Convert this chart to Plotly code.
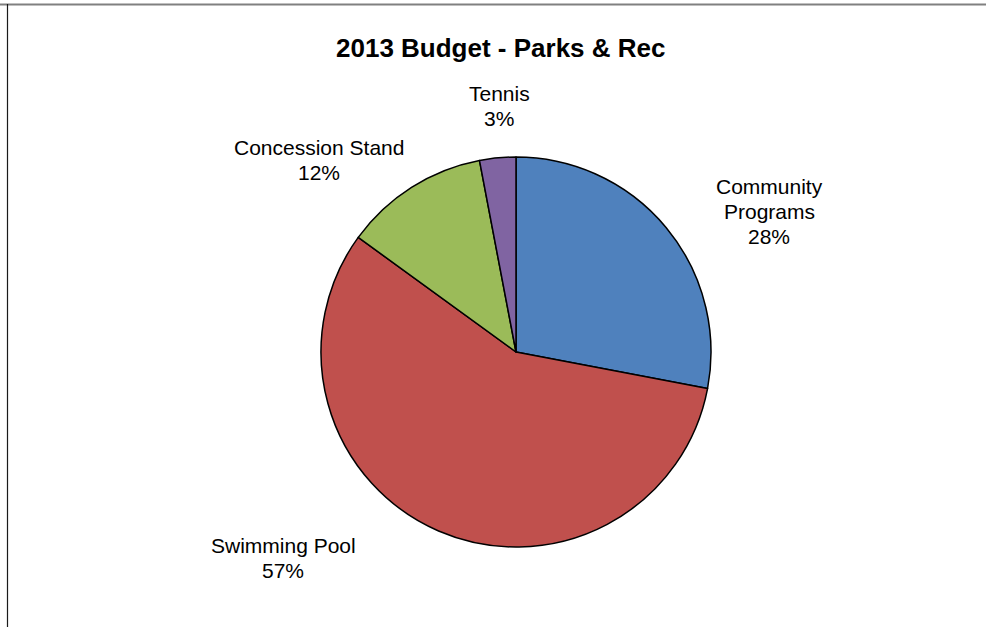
import plotly.graph_objects as go

# Budget shares by program
categories = ["Community Programs", "Swimming Pool", "Concession Stand", "Tennis"]
values = [28, 57, 12, 3]
colors = ["#4F81BD", "#C0504D", "#9BBB59", "#8064A2"]

# Label text lines (name may wrap) and where each label block sits (pixels)
label_lines = {
    "Community Programs": ["Community", "Programs"],
    "Swimming Pool": ["Swimming Pool"],
    "Concession Stand": ["Concession Stand"],
    "Tennis": ["Tennis"],
}
label_pos = {
    "Community Programs": (769, 186),
    "Swimming Pool": (283, 545),
    "Concession Stand": (319, 147),
    "Tennis": (499, 93),
}

W, H = 986, 627
FONT = "Liberation Sans, Arial, sans-serif"
LINE = 25  # pixel spacing between label lines

cx, cy, r = 516, 352, 195

fig = go.Figure(
    go.Pie(
        labels=categories,
        values=values,
        sort=False,
        direction="clockwise",
        rotation=0,
        marker=dict(colors=colors, line=dict(color="#000000", width=1.5)),
        textinfo="none",
        hoverinfo="label+percent",
        showlegend=False,
        domain=dict(
            x=[(cx - r) / W, (cx + r) / W],
            y=[1 - (cy + r) / H, 1 - (cy - r) / H],
        ),
    )
)

total = sum(values)
annotations = []
for name, v in zip(categories, values):
    lines = label_lines[name] + [f"{round(v / total * 100)}%"]
    x0, y0 = label_pos[name]
    for i, txt in enumerate(lines):
        annotations.append(
            dict(
                x=x0 / W, y=1 - (y0 + i * LINE) / H,
                xref="paper", yref="paper",
                text=txt, showarrow=False,
                xanchor="center", yanchor="middle",
                font=dict(family=FONT, size=21, color="#000000"),
            )
        )

annotations.append(
    dict(
        x=500 / W, y=1 - 48 / H, xref="paper", yref="paper",
        text="<b>2013 Budget - Parks & Rec</b>", showarrow=False,
        xanchor="center", yanchor="middle",
        font=dict(family=FONT, size=26, color="#000000"),
    )
)

shapes = [
    # chart area frame: top and left edges
    dict(type="line", xref="paper", yref="paper",
         x0=0, x1=1, y0=1 - 4.5 / H, y1=1 - 4.5 / H,
         line=dict(color="#808080", width=2)),
    dict(type="line", xref="paper", yref="paper",
         x0=7.5 / W, x1=7.5 / W, y0=0, y1=1 - 4 / H,
         line=dict(color="#1a1a1a", width=1.2)),
]

fig.update_layout(
    width=W, height=H,
    margin=dict(l=0, r=0, t=0, b=0),
    paper_bgcolor="#FFFFFF",
    plot_bgcolor="#FFFFFF",
    annotations=annotations,
    shapes=shapes,
    font=dict(family=FONT),
)

fig.write_html("out.html")
